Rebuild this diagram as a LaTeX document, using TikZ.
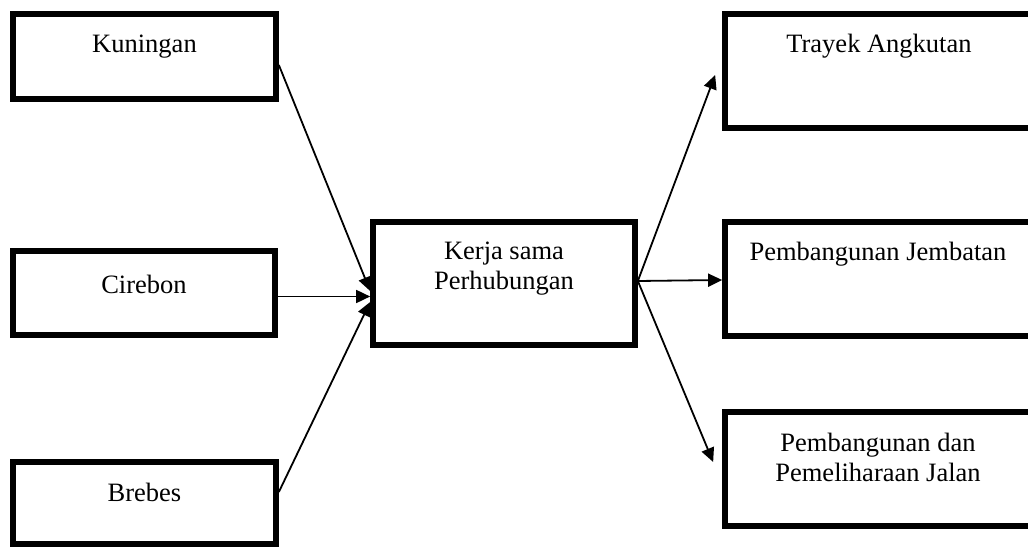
\documentclass[tikz,border=0pt]{standalone}
\usepackage{fontspec}
\setmainfont{Liberation Serif}
\usetikzlibrary{arrows.meta}
\tikzset{
  box/.style={draw=black, line width=5.7pt, fill=white, inner sep=0pt},
  txt/.style={font=\fontsize{26.5}{29.5}\selectfont, inner sep=0pt, align=center},
  arr/.style={line width=1.8pt, -{Triangle[length=14pt,width=13pt]}},
}
\begin{document}
\begin{tikzpicture}[x=1pt,y=-1pt]
\useasboundingbox (0,0) rectangle (1028,548);
\clip (0,0) rectangle (1028,548);
% boxes
\node[box, minimum width=263pt, minimum height=85pt] (kun) at (144.5,56.5) {};
\node[box, minimum width=262pt, minimum height=84pt] (cir) at (144,293) {};
\node[box, minimum width=263pt, minimum height=82pt] (bre) at (144.5,503) {};
\node[box, minimum width=262pt, minimum height=123pt] (ks) at (504,283.5) {};
\node[box, minimum width=309pt, minimum height=114pt] (tra) at (879.5,71) {};
\node[box, minimum width=309pt, minimum height=114pt] (jem) at (879.5,279) {};
\node[box, minimum width=309pt, minimum height=114pt] (pdj) at (879.5,469) {};
% texts
\node[txt, anchor=base] (kunt) at (144.5,53) {Kuningan};
\node[txt, anchor=base] (cirt) at (144,293) {Cirebon};
\node[txt, anchor=base] (bret) at (144.5,501) {Brebes};
\node[txt, anchor=north] (kst) at (504,242) {Kerja sama\\Perhubungan};
\node[txt, anchor=base] (trat) at (879,53) {Trayek Angkutan};
\node[txt, anchor=base] (jemt) at (878,261) {Pembangunan Jembatan};
\node[txt, anchor=north] (pdjt) at (878,433) {Pembangunan dan\\Pemeliharaan Jalan};
% free ends of arrows
\coordinate (inK) at ([yshift=-7.5pt]ks.west);
\coordinate (inC) at ([yshift=-13pt]ks.west);
\coordinate (inB) at ([yshift=-18.5pt]ks.west);
\coordinate (outT) at ([xshift=-7pt,yshift=-4pt]tra.west);
\coordinate (outJ) at ([yshift=-1pt]jem.west);
\coordinate (outP) at ([xshift=-9pt,yshift=7pt]pdj.west);
\coordinate (src) at ([yshift=2.5pt]ks.east);
% connectors
\draw[arr] ([yshift=-8.5pt]kun.east) -- (inK);
\draw[arr] ([yshift=-3.5pt]cir.east) -- (inC);
\draw[arr] ([yshift=11pt]bre.east) -- (inB);
\draw[arr] (src) -- (outT);
\draw[arr] (src) -- (outJ);
\draw[arr] (src) -- (outP);
\end{tikzpicture}
\end{document}
